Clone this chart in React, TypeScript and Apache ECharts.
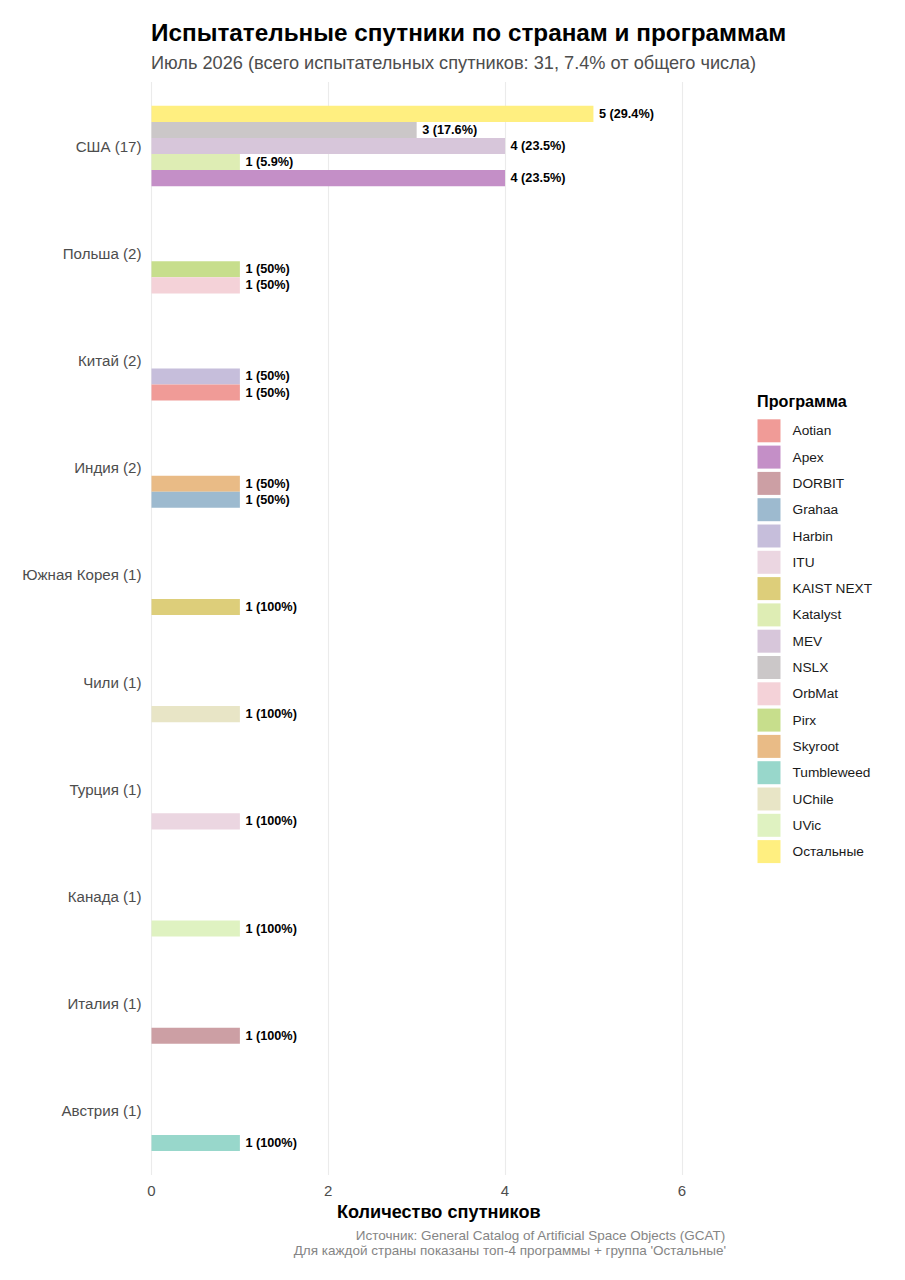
import React, { useEffect, useRef } from "react";
import * as echarts from "echarts";

const countries = ["США", "Польша", "Китай", "Индия", "Южная Корея", "Чили", "Турция", "Канада", "Италия", "Австрия"];
const countryTotals = [17, 2, 2, 2, 1, 1, 1, 1, 1, 1];

const programs = ["Aotian", "Apex", "DORBIT", "Grahaa", "Harbin", "ITU", "KAIST NEXT", "Katalyst", "MEV", "NSLX", "OrbMat", "Pirx", "Skyroot", "Tumbleweed", "UChile", "UVic", "Остальные"];
const programCountries = ["Китай", "США", "Италия", "Индия", "Китай", "Турция", "Южная Корея", "США", "США", "США", "Польша", "Польша", "Индия", "Австрия", "Чили", "Канада", "США"];
const programCounts = [1, 4, 1, 1, 1, 1, 1, 1, 4, 3, 1, 1, 1, 1, 1, 1, 5];
const programColors = ["#F09B97", "#C48FC7", "#CC9FA4", "#9DBACF", "#C6BEDB", "#EBD6E1", "#DDCE7A", "#DEEDB4", "#D7C6DA", "#CBC7C8", "#F4D2D8", "#C7DE8C", "#E9BB86", "#98D7CB", "#E8E5C6", "#DFF2C1", "#FFEF80"];

const xTicks = [0, 2, 4, 6];

const TITLE = "Испытательные спутники по странам и программам";
const SUBTITLE = "Июль 2026 (всего испытательных спутников: 31, 7.4% от общего числа)";
const X_NAME = "Количество спутников";
const LEGEND_TITLE = "Программа";
const CAPTION1 = "Источник: General Catalog of Artificial Space Objects (GCAT)";
const CAPTION2 = "Для каждой страны показаны топ-4 программы + группа 'Остальные'";

const FONT = "'Liberation Sans', Arial, Helvetica, sans-serif";
const SLOTS = 5;

function fmtPct(x: number): string {
  return String(Math.round(x * 1000) / 10);
}

export default function App() {
  const ref = useRef<HTMLDivElement>(null);

  useEffect(() => {
    if (!ref.current) return;
    const chart = echarts.init(ref.current, undefined, { renderer: "svg" });

    const categoryLabels = countries.map((c, i) => `${c} (${countryTotals[i]})`);

    // slot of each program within its country's band (legend order, last one on top)
    const slots = programs.map((p, i) => {
      const c = programCountries[i];
      const same = programs.filter((_, j) => programCountries[j] === c);
      const rank = same.indexOf(p);
      return SLOTS - 1 - rank;
    });

    const order = programs.map((_, i) => i).sort((a, b) => slots[a] - slots[b]);

    const series: any[] = order.map((i) => {
      const ci = countries.indexOf(programCountries[i]);
      const data = countries.map((_, k) => (k === ci ? programCounts[i] : null));
      return {
        name: programs[i],
        type: "bar",
        xAxisIndex: 1,
        yAxisIndex: 1,
        stack: "slot" + slots[i],
        barGap: "0%",
        barCategoryGap: "25%",
        data,
        itemStyle: { color: programColors[i] },
        label: {
          show: true,
          position: "right",
          distance: 5.5,
          fontFamily: FONT,
          fontSize: 12.7,
          fontWeight: "bold",
          color: "#000",
          formatter: (p: any) => `${p.value} (${fmtPct(p.value / countryTotals[ci])}%)`,
        },
        emphasis: { disabled: true },
      };
    });

    const option: any = {
      animation: false,
      backgroundColor: "#ffffff",
      textStyle: { fontFamily: FONT },
      title: [
        { text: TITLE, left: 151, top: 20.5, padding: 0, textStyle: { fontFamily: FONT, fontSize: 24.3, fontWeight: "bold", color: "#000" } },
        { text: SUBTITLE, left: 151, top: 53.5, padding: 0, textStyle: { fontFamily: FONT, fontSize: 18.2, fontWeight: "normal", color: "#4D4D4D" } },
        { text: LEGEND_TITLE, left: 757, top: 392.5, padding: 0, textStyle: { fontFamily: FONT, fontSize: 16.2, fontWeight: "bold", color: "#000" } },
        { text: CAPTION1, right: 179, top: 1228, padding: 0, textStyle: { fontFamily: FONT, fontSize: 13.5, fontWeight: "normal", color: "#858585" } },
        { text: CAPTION2, right: 179, top: 1243, padding: 0, textStyle: { fontFamily: FONT, fontSize: 13.5, fontWeight: "normal", color: "#858585" } },
      ],
      legend: {
        orient: "vertical",
        left: 757.5,
        top: 419.3,
        padding: 0,
        icon: "rect",
        itemWidth: 23,
        itemHeight: 23,
        itemGap: 3.3,
        selectedMode: false,
        data: programs,
        textStyle: { fontFamily: FONT, fontSize: 13.7, color: "#1A1A1A", padding: [0, 0, 0, 7] },
      },
      grid: [
        { left: 151.5, right: 179, top: 82, bottom: 105, containLabel: false },
        { left: 151.5, right: 179, top: 92.4, bottom: 115.6, containLabel: false },
      ],
      xAxis: [
        {
          type: "value",
          gridIndex: 0,
          min: 0,
          max: 6.5,
          interval: 2,
          name: X_NAME,
          nameLocation: "middle",
          nameGap: 27,
          nameTextStyle: { fontFamily: FONT, fontSize: 18.1, fontWeight: "bold", color: "#000" },
          axisLine: { show: false },
          axisTick: { show: false },
          axisLabel: {
            margin: 8,
            fontFamily: FONT,
            fontSize: 15,
            color: "#4D4D4D",
            showMaxLabel: false,
            formatter: (v: number) => (xTicks.indexOf(v) >= 0 ? String(v) : ""),
          },
          splitLine: {
            show: true,
            showMaxLine: false,
            lineStyle: { color: ["#EBEBEB", "#EBEBEB", "#EBEBEB", "#EBEBEB", "rgba(0,0,0,0)"], width: 1.1 },
          },
        },
        { type: "value", gridIndex: 1, min: 0, max: 6.5, show: false, splitLine: { show: false } },
      ],
      yAxis: [
        { type: "value", gridIndex: 0, min: 0, max: 1, show: false, splitLine: { show: false } },
        {
          type: "category",
          gridIndex: 1,
          inverse: true,
          data: categoryLabels,
          axisLine: { show: false },
          axisTick: { show: false },
          splitLine: { show: false },
          axisLabel: { margin: 10, fontFamily: FONT, fontSize: 15.1, color: "#4D4D4D" },
        },
      ],
      series,
    };

    chart.setOption(option);
    return () => chart.dispose();
  }, []);

  return <div ref={ref} style={{ position: "absolute", left: 0, top: 0, width: 905, height: 1280 }} />;
}
